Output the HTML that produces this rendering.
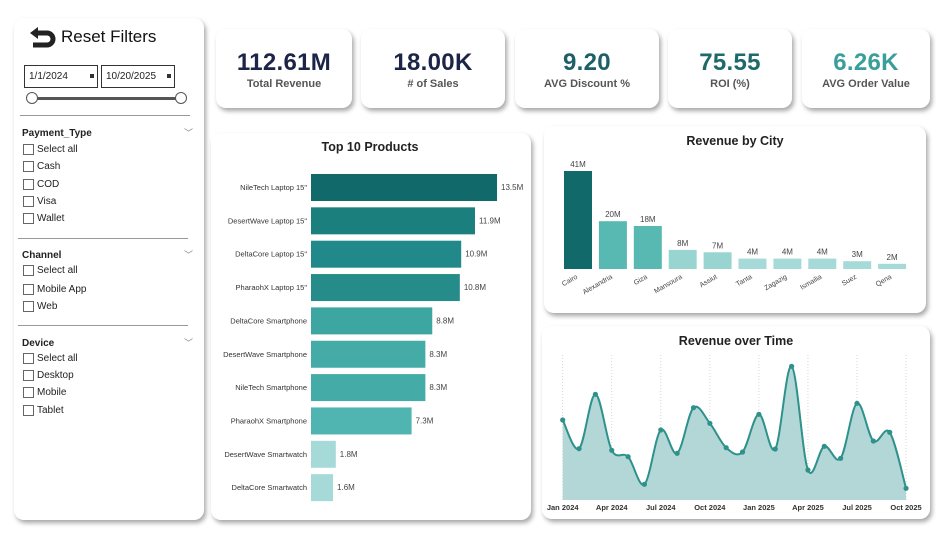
<!DOCTYPE html>
<html><head><meta charset="utf-8"><style>
body{margin:0;width:949px;height:545px;background:#fff;position:relative;overflow:hidden;font-family:"Liberation Sans",sans-serif}
div,span{white-space:nowrap}
.card{position:absolute;background:#fff;border-radius:10px;box-shadow:2px 3px 5px rgba(0,0,0,.35)}
.kpi{text-align:center}
.kpi .v{font-size:24px;color:#1c2447;margin-top:20px;letter-spacing:.3px;font-weight:bold}
.kpi .l{font-size:11px;font-weight:bold;color:#555;margin-top:1px}
.sb{font-size:10px;color:#222}
.cb{position:absolute;left:23px;width:9px;height:9px;border:1px solid #666;background:#fff}
.it{position:absolute;left:37px;font-size:10px}
.hd{position:absolute;left:22px;font-size:10px;font-weight:bold}
.hr{position:absolute;height:1px;background:#999}
.chev{position:absolute;left:184px;font-size:9px;color:#888}
</style></head><body>
<div class="card" style="left:14px;top:18px;width:190px;height:502px"></div>
<div class="sb" style="position:absolute;left:0;top:0">
<svg style="position:absolute;left:29px;top:24px" width="30" height="24" viewBox="0 0 30 24"><path d="M9 3 L1 9 L9 15 Z" fill="#222"/><path d="M7 9 H18 A6 6 0 0 1 18 21 H4" stroke="#222" stroke-width="5" fill="none"/></svg>
<div style="position:absolute;left:61px;top:27px;font-size:17px;color:#111">Reset Filters</div>
<div style="position:absolute;left:24px;top:65px;width:72px;height:21px;border:1px solid #333"><span style="position:absolute;left:4px;top:5px">1/1/2024</span><span style="position:absolute;right:3px;top:8px;width:4px;height:4px;background:#333"></span></div>
<div style="position:absolute;left:101px;top:65px;width:72px;height:21px;border:1px solid #333"><span style="position:absolute;left:4px;top:5px">10/20/2025</span><span style="position:absolute;right:3px;top:8px;width:4px;height:4px;background:#333"></span></div>
<div style="position:absolute;left:32px;top:97px;width:149px;height:3px;background:#555"></div>
<div style="position:absolute;left:26px;top:92px;width:10px;height:10px;border:1px solid #555;border-radius:50%;background:#fff"></div>
<div style="position:absolute;left:175px;top:92px;width:10px;height:10px;border:1px solid #555;border-radius:50%;background:#fff"></div>
<div class="hr" style="left:20px;top:115px;width:170px"></div>
<div class="hd" style="top:128px">Payment_Type</div><div class="chev" style="top:126px">﹀</div>
<div class="cb" style="top:144px"></div><div class="it" style="top:144px">Select all</div>
<div class="cb" style="top:161px"></div><div class="it" style="top:161px">Cash</div>
<div class="cb" style="top:179px"></div><div class="it" style="top:179px">COD</div>
<div class="cb" style="top:196px"></div><div class="it" style="top:196px">Visa</div>
<div class="cb" style="top:213px"></div><div class="it" style="top:213px">Wallet</div>
<div class="hr" style="left:18px;top:238px;width:170px"></div>
<div class="hd" style="top:250px">Channel</div><div class="chev" style="top:248px">﹀</div>
<div class="cb" style="top:265px"></div><div class="it" style="top:265px">Select all</div>
<div class="cb" style="top:284px"></div><div class="it" style="top:284px">Mobile App</div>
<div class="cb" style="top:301px"></div><div class="it" style="top:301px">Web</div>
<div class="hr" style="left:18px;top:325px;width:170px"></div>
<div class="hd" style="top:338px">Device</div><div class="chev" style="top:336px">﹀</div>
<div class="cb" style="top:353px"></div><div class="it" style="top:353px">Select all</div>
<div class="cb" style="top:370px"></div><div class="it" style="top:370px">Desktop</div>
<div class="cb" style="top:387px"></div><div class="it" style="top:387px">Mobile</div>
<div class="cb" style="top:405px"></div><div class="it" style="top:405px">Tablet</div>
</div>

<div class="card kpi" style="left:216px;top:29px;width:136px;height:79px"><div class="v">112.61M</div><div class="l">Total Revenue</div></div>
<div class="card kpi" style="left:361px;top:29px;width:144px;height:79px"><div class="v">18.00K</div><div class="l"># of Sales</div></div>
<div class="card kpi" style="left:515px;top:29px;width:144px;height:79px"><div class="v" style="color:#1e5f68">9.20</div><div class="l">AVG Discount %</div></div>
<div class="card kpi" style="left:668px;top:29px;width:124px;height:79px"><div class="v" style="color:#1e6a6a">75.55</div><div class="l">ROI (%)</div></div>
<div class="card kpi" style="left:802px;top:29px;width:128px;height:79px"><div class="v" style="color:#3a9e9a">6.26K</div><div class="l">AVG Order Value</div></div>

<div class="card" style="left:211px;top:133px;width:320px;height:387px"></div>
<div class="card" style="left:544px;top:126px;width:382px;height:187px"></div>
<div class="card" style="left:542px;top:326px;width:388px;height:193px"></div>

<svg style="position:absolute;left:0;top:0" width="949" height="545" font-family="Liberation Sans, sans-serif">
<text x="370" y="151" font-size="12.5" font-weight="bold" text-anchor="middle" fill="#222">Top 10 Products</text>
<g font-size="7.5" fill="#333" text-anchor="end" id="bars"></g>
<text x="735" y="145" font-size="12.5" font-weight="bold" text-anchor="middle" fill="#222">Revenue by City</text>
<g id="city" font-size="8" fill="#444"></g>
<text x="736" y="345" font-size="12.5" font-weight="bold" text-anchor="middle" fill="#222">Revenue over Time</text>
<g id="time"></g>
</svg>
<script>
var NS="http://www.w3.org/2000/svg";
function el(p,t,a,txt){var e=document.createElementNS(NS,t);for(var k in a)e.setAttribute(k,a[k]);if(txt)e.textContent=txt;p.appendChild(e);return e;}
var prods=[["NileTech Laptop 15\"",13.5,"#12696a"],["DesertWave Laptop 15\"",11.9,"#1a7f7d"],["DeltaCore Laptop 15\"",10.9,"#22898a"],["PharaohX Laptop 15\"",10.8,"#258c89"],["DeltaCore Smartphone",8.8,"#3ea6a1"],["DesertWave Smartphone",8.3,"#44aba6"],["NileTech Smartphone",8.3,"#44aba6"],["PharaohX Smartphone",7.3,"#50b5b0"],["DesertWave Smartwatch",1.8,"#a6dad8"],["DeltaCore Smartwatch",1.6,"#a6dad8"]];
var g=document.getElementById("bars");
prods.forEach(function(p,i){var y=174+i*33.35,w=p[1]*13.78;
el(g,"rect",{x:311,y:y,width:w,height:27,fill:p[2]});
el(g,"text",{x:307,y:y+16},p[0]);
el(g,"text",{x:311+w+4,y:y+16,"text-anchor":"start",fill:"#444","font-size":"8"},p[1].toFixed(1)+"M");});
var cities=[["Cairo",41,"#12696a"],["Alexandria",20,"#58b8b2"],["Giza",18,"#58b8b2"],["Mansoura",8,"#98d5d1"],["Assiut",7,"#98d5d1"],["Tanta",4,"#a6dad8"],["Zagazig",4,"#a6dad8"],["Ismailia",4,"#a6dad8"],["Suez",3,"#a6dad8"],["Qena",2,"#a6dad8"]];
var c=document.getElementById("city");
cities.forEach(function(p,i){var x=564+i*34.9,h=p[1]*2.39;if(p[1]<=4)h=p[1]*2.6;
el(c,"rect",{x:x,y:269-h,width:28,height:h,fill:p[2]});
el(c,"text",{x:x+14,y:265-h,"text-anchor":"middle"},p[1]+"M");
el(c,"text",{x:x+14,y:278,"text-anchor":"end","font-size":"7",transform:"rotate(-30 "+(x+14)+" 278)"},p[0]);});
var ys=[420,448.7,394.3,450.3,456.7,484.3,430,453.3,407.7,423.3,447.7,452,414.3,449,366.3,470,446.3,458.3,403.3,441,432.3,488.3];
var t=document.getElementById("time"),x0=562.7,dx=16.35,base=500;
var P=ys.map(function(y,i){return [x0+i*dx,y];});
var labs=["Jan 2024","Apr 2024","Jul 2024","Oct 2024","Jan 2025","Apr 2025","Jul 2025","Oct 2025"];
labs.forEach(function(l,k){var x=x0+k*3*dx;el(t,"line",{x1:x,y1:355,x2:x,y2:base,stroke:"#ccc","stroke-dasharray":"1,2","stroke-width":"0.8"});
el(t,"text",{x:x,y:510,"text-anchor":"middle","font-size":"7.5","font-weight":"bold",fill:"#333","font-family":"Liberation Sans, sans-serif"},l);});
var d="M"+P[0][0]+","+P[0][1];
for(var i=0;i<P.length-1;i++){var p0=P[i-1]||P[i],p1=P[i],p2=P[i+1],p3=P[i+2]||p2;
d+=" C"+(p1[0]+(p2[0]-p0[0])/6)+","+(p1[1]+(p2[1]-p0[1])/6)+" "+(p2[0]-(p3[0]-p1[0])/6)+","+(p2[1]-(p3[1]-p1[1])/6)+" "+p2[0]+","+p2[1];}
el(t,"path",{d:d+" L"+P[P.length-1][0]+","+base+" L"+x0+","+base+" Z",fill:"#b3d7d7"});
el(t,"path",{d:d,fill:"none",stroke:"#2e918c","stroke-width":"2"});
P.forEach(function(p){el(t,"circle",{cx:p[0],cy:p[1],r:2.6,fill:"#2e918c"});});
</script>
</body></html>
